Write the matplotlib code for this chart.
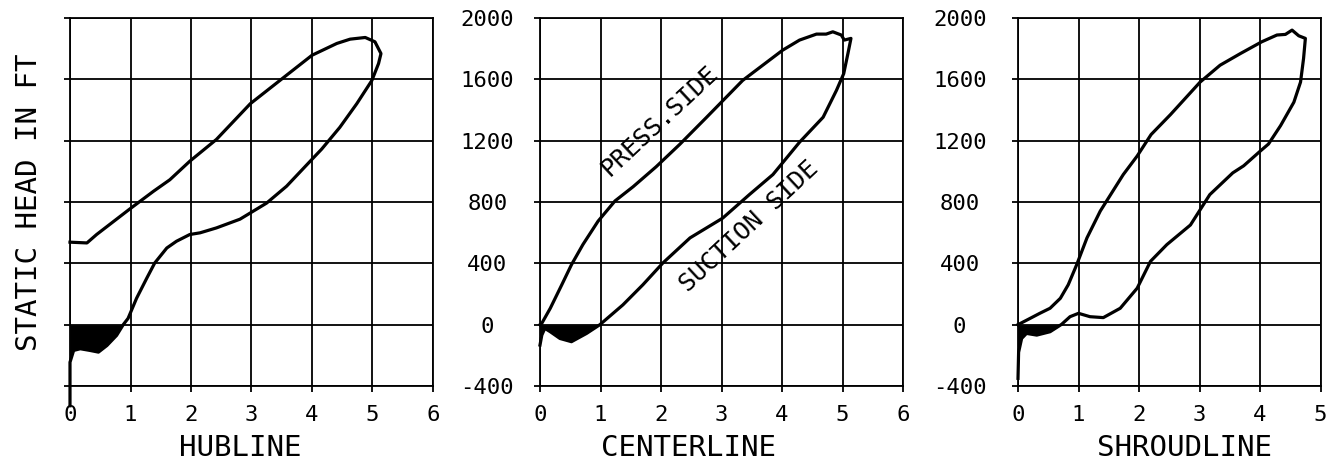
import numpy as np
import matplotlib.pyplot as plt

plt.rcParams['font.family'] = ['DejaVu Sans Mono', 'DejaVu Sans']
plt.rcParams['axes.unicode_minus'] = False

# static head curves (x along the line, y in ft)
# each curve: pressure side out to the tip, then suction side back to x=0
hub_x = [0.0, 0.28, 0.44, 0.99, 1.38, 1.65, 1.98, 2.42, 2.98, 3.47, 4.0, 4.41, 4.63, 4.88, 5.04, 5.14,
         5.1, 4.99, 4.74, 4.46, 4.16, 3.97, 3.58, 3.25, 2.81, 2.42, 2.15, 1.98, 1.76, 1.6, 1.4, 1.27,
         1.1, 0.96, 0.88, 0.77, 0.61, 0.47, 0.33, 0.17, 0.06, 0.0, 0.0]
hub_y = [538, 533, 588, 755, 870, 945, 1066, 1208, 1441, 1593, 1757, 1834, 1862, 1873, 1845, 1768,
         1703, 1593, 1441, 1287, 1145, 1066, 903, 793, 688, 631, 599, 588, 544, 500, 402, 304,
         172, 41, 0, -70, -136, -179, -168, -157, -168, -245, -529]

cen_x = [0.0, 0.03, 0.17, 0.36, 0.52, 0.71, 0.96, 1.24, 1.54, 1.92, 2.31, 2.75, 3.35, 4.01, 4.29, 4.57,
         4.73, 4.84, 4.98, 5.03, 5.14, 5.09, 5.02, 4.9, 4.68, 4.29, 3.85, 3.46, 3.02, 2.48, 2.03,
         1.7, 1.37, 0.99, 0.77, 0.52, 0.33, 0.17, 0.08, 0.03, 0.0]
cen_y = [0, 9, 107, 260, 391, 523, 675, 807, 900, 1030, 1176, 1351, 1593, 1790, 1856, 1895,
         1895, 1910, 1889, 1856, 1867, 1769, 1637, 1528, 1353, 1190, 979, 848, 695, 566, 402,
         260, 129, 0, -57, -111, -90, -46, -24, -68, -133]

shr_x = [0.0, 0.2, 0.36, 0.53, 0.7, 0.83, 0.97, 1.14, 1.36, 1.74, 1.97, 2.2, 2.52, 3.01, 3.34, 3.68,
         4.03, 4.28, 4.42, 4.53, 4.64, 4.75, 4.72, 4.67, 4.56, 4.34, 4.14, 4.01, 3.73, 3.55, 3.17,
         2.85, 2.46, 2.19, 1.97, 1.69, 1.41, 1.19, 1.0, 0.86, 0.72, 0.53, 0.31, 0.14, 0.06, 0.01, 0.0]
shr_y = [0, 41, 74, 107, 172, 260, 391, 566, 741, 979, 1100, 1240, 1370, 1582, 1692, 1769,
         1845, 1889, 1893, 1921, 1884, 1867, 1736, 1582, 1451, 1298, 1178, 1134, 1036, 990, 848,
         650, 522, 413, 238, 107, 46, 52, 74, 52, 2, -46, -68, -57, -90, -180, -350]

panels = [
    (hub_x, hub_y, 'HUBLINE', 6, False),
    (cen_x, cen_y, 'CENTERLINE', 6, True),
    (shr_x, shr_y, 'SHROUDLINE', 5, True),
]

W, H = 1334, 465
fig = plt.figure(figsize=(W / 100, H / 100), dpi=100)

lefts = [70, 540, 1018]
label_pos = [0.468, 0.408, 0.55]
ylab_pad = [0, 34, 38]

for i, (x, y, name, xmax, show_y) in enumerate(panels):
    width = 60.5 * xmax
    ax = fig.add_axes([lefts[i] / W, 1 - 386 / H, width / W, 368 / H])
    x = np.array(x, dtype=float)
    y = np.array(y, dtype=float)
    ax.plot(x, y, color='black', lw=2.3, clip_on=False, solid_joinstyle='round')

    # black fill where the suction side dips below zero near the leading edge
    k = np.where(y[:-1] >= 0)[0][-1]
    ax.fill_between(x[k:], np.minimum(y[k:], 0), 0, color='black', lw=0)

    ax.set_xlim(0, xmax)
    ax.set_ylim(-400, 2000)
    ax.set_xticks(range(0, xmax + 1))
    ax.set_yticks(range(-400, 2001, 400))
    ax.grid(True, color='black', lw=1.3)
    for s in ax.spines.values():
        s.set_linewidth(1.3)
    ax.tick_params(direction='out', length=4, width=1.3, labelsize=16)
    ax.tick_params(axis='x', pad=10)
    if show_y:
        ax.tick_params(axis='y', pad=ylab_pad[i])
        for lab in ax.get_yticklabels():
            lab.set_horizontalalignment('center')
    else:
        ax.set_yticklabels([])
        ax.set_ylabel('STATIC HEAD IN FT', fontsize=21, labelpad=12)
    ax.set_xlabel(name, fontsize=21)
    ax.xaxis.set_label_coords(label_pos[i], -0.13)

    if name == 'CENTERLINE':
        ax.text(1.98, 1330, 'PRESS.SIDE', rotation=43, fontsize=18,
                ha='center', va='center', rotation_mode='anchor')
        ax.text(3.45, 640, 'SUCTION SIDE', rotation=43, fontsize=18,
                ha='center', va='center', rotation_mode='anchor')

fig.savefig('out.png', dpi=100)
